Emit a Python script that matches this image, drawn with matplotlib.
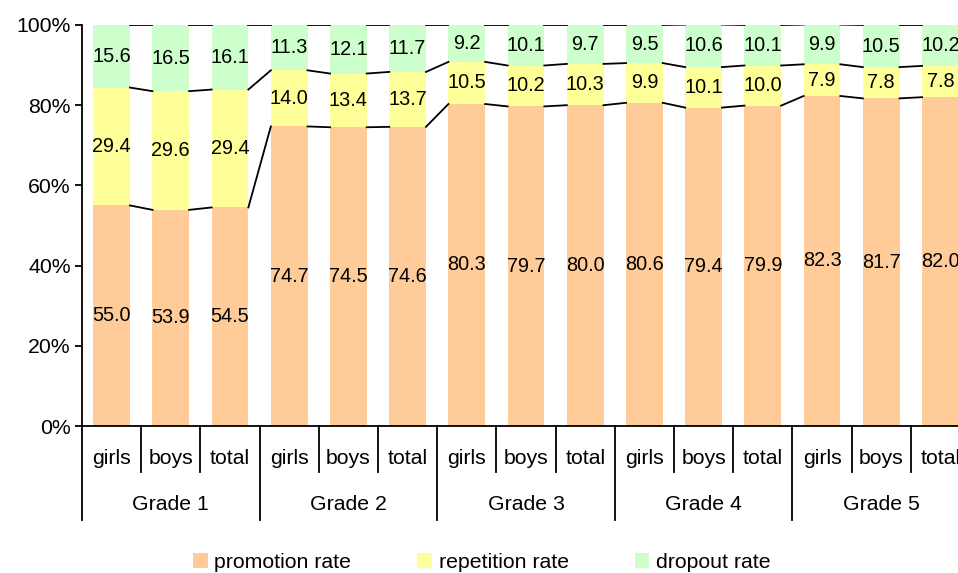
import numpy as np
from matplotlib import pyplot as plt
from matplotlib.patches import Patch
from matplotlib.transforms import blended_transform_factory

plt.rcParams['font.family'] = ['Liberation Sans', 'DejaVu Sans']

GRADES = ['Grade 1', 'Grade 2', 'Grade 3', 'Grade 4', 'Grade 5']
SUBS = ['girls', 'boys', 'total']
SERIES = ['promotion rate', 'repetition rate', 'dropout rate']
COLORS = ['#FFCC99', '#FFFF99', '#CCFFCC']

promotion = [55.0, 53.9, 54.5, 74.7, 74.5, 74.6, 80.3, 79.7, 80.0, 80.6, 79.4, 79.9, 82.3, 81.7, 82.0]
repetition = [29.4, 29.6, 29.4, 14.0, 13.4, 13.7, 10.5, 10.2, 10.3, 9.9, 10.1, 10.0, 7.9, 7.8, 7.8]
dropout = [15.6, 16.5, 16.1, 11.3, 12.1, 11.7, 9.2, 10.1, 9.7, 9.5, 10.6, 10.1, 9.9, 10.5, 10.2]

FS = 15.3     # axis / legend text
FS_LAB = 14.3 # data labels
W = 0.62

fig = plt.figure(figsize=(9.58, 5.73), dpi=100)
# the original is cut off on the right, so the axes run past the figure edge
ax = fig.add_axes([82/958, 147/573, 888/958, 401/573])

x = np.arange(len(promotion))
bottom = np.zeros(len(x))
tops = []
for vals, col in zip([promotion, repetition, dropout], COLORS):
    vals = np.array(vals)
    ax.bar(x, vals, W, bottom=bottom, color=col, edgecolor='none', zorder=2)
    for xi, b, v in zip(x, bottom, vals):
        ax.text(xi, b + v/2, '%.1f' % v, ha='center', va='center', fontsize=FS_LAB, zorder=4)
    bottom = bottom + vals
    tops.append(bottom.copy())

# series lines between bars
for t in tops:
    for i in range(len(x) - 1):
        ax.plot([x[i] + W/2, x[i+1] - W/2], [t[i], t[i+1]], color='black', lw=1.3, zorder=3)

ax.set_xlim(-0.5, len(x) - 0.5)
ax.set_ylim(0, 100)
ax.set_yticks(range(0, 101, 20))
ax.set_yticklabels(['%d%%' % v for v in range(0, 101, 20)], fontsize=FS)
ax.tick_params(axis='y', length=5, width=1.3, direction='out', pad=3)
ax.set_xticks([])
for s in ['top', 'right']:
    ax.spines[s].set_visible(False)
ax.spines['left'].set_linewidth(1.3)
ax.spines['bottom'].set_linewidth(1.3)

# two level category axis
tr = blended_transform_factory(ax.transData, ax.transAxes)
for i in range(len(x)):
    ax.text(x[i], -0.08, SUBS[i % 3], ha='center', va='center', fontsize=FS, transform=tr)
for i in range(len(x) + 1):
    y2 = -0.235 if i % 3 == 0 else -0.115
    ax.plot([i - 0.5, i - 0.5], [0, y2], color='black', lw=1.3, transform=tr, clip_on=False)
for g, name in enumerate(GRADES):
    ax.text(g*3 + 1, -0.197, name, ha='center', va='center', fontsize=FS, transform=tr)

handles = [Patch(facecolor=c, edgecolor='none') for c in COLORS]
fig.legend(handles, SERIES, loc='center', bbox_to_anchor=(0.503, 0.018), ncol=3, frameon=False,
           fontsize=FS, handlelength=0.7, handleheight=0.7, handletextpad=0.3, columnspacing=3.1)

plt.savefig('out.png', dpi=100)
